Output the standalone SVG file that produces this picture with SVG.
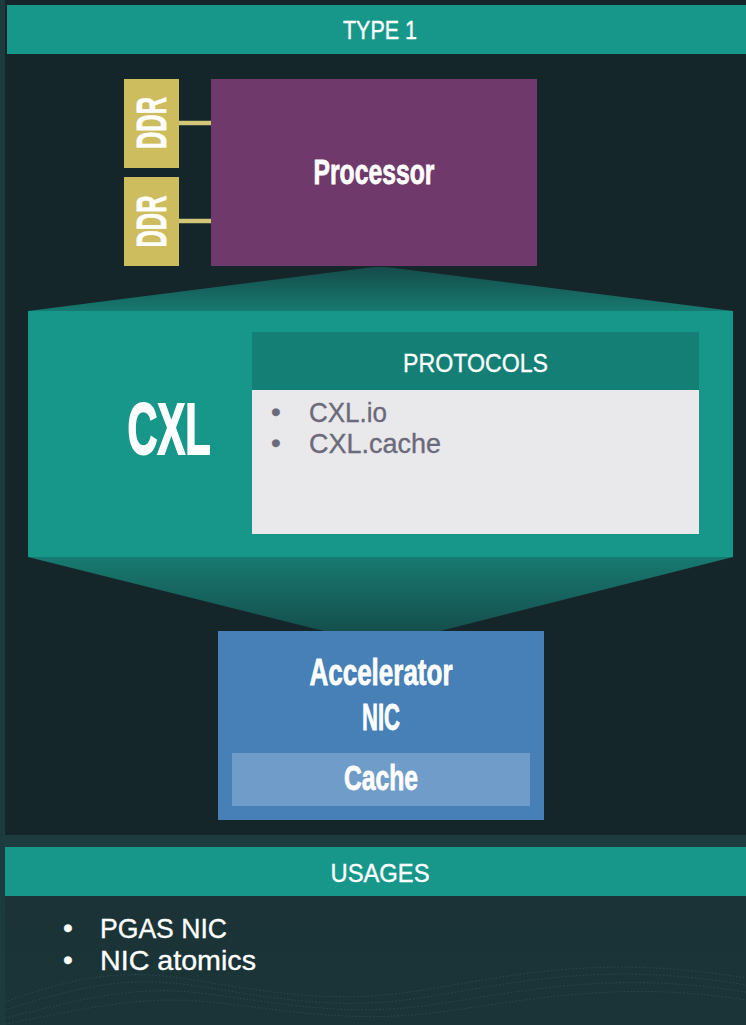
<svg xmlns="http://www.w3.org/2000/svg" width="746" height="1025" viewBox="0 0 746 1025">
<style>
.reg{font-family:"Liberation Sans",Arial,sans-serif;fill:#ffffff;text-anchor:middle;stroke:#ffffff;stroke-width:0.35}
.bold{font-family:"Liberation Sans",Arial,sans-serif;font-weight:bold;fill:#ffffff;text-anchor:middle;stroke:#ffffff;stroke-width:0.8}
.left{text-anchor:start}
.teal{fill:#16978a}
.ddr{fill:#cdbd5e}
.gray{fill:#6b6a7a;stroke:#6b6a7a}
.wave{fill:none;stroke:#3f7479;stroke-width:1;stroke-dasharray:1.5 2;opacity:0.35}
</style>
<defs>
<linearGradient id="gTop" x1="0" y1="0" x2="0" y2="1">
<stop offset="0" stop-color="#154b49"/>
<stop offset="1" stop-color="#177a70"/>
</linearGradient>
<linearGradient id="gBot" x1="0" y1="0" x2="0" y2="1">
<stop offset="0" stop-color="#177a70"/>
<stop offset="1" stop-color="#154f4d"/>
</linearGradient>
<linearGradient id="gBg" x1="0" y1="0" x2="0" y2="1">
<stop offset="0" stop-color="#1b3337"/>
<stop offset="1" stop-color="#1a3438"/>
</linearGradient>
</defs>

<!-- background -->
<rect x="0" y="0" width="746" height="1025" fill="#1b3b3e"/>
<rect x="5" y="0" width="741" height="835" fill="#15262b"/>
<rect x="5" y="835" width="741" height="12" fill="#1c3c3f"/>
<rect x="5" y="896" width="741" height="129" fill="url(#gBg)"/>
<g id="waves">
<path class="wave" d="M5,1010 C70,990 120,975 190,985 S330,1012 420,998 S600,960 746,985"/>
<path class="wave" d="M5,1018 C80,1000 130,985 200,993 S340,1018 430,1005 S610,970 746,992"/>
<path class="wave" d="M5,1002 C60,982 110,968 180,978 S320,1005 410,992 S590,952 746,978"/>
<path class="wave" d="M5,1024 C90,1008 140,995 210,1002 S350,1024 440,1012 S620,980 746,1000"/>
</g>

<!-- header -->
<g id="type1-header">
<rect class="teal" x="7" y="5" width="739" height="49"/>
<text class="reg" x="380" y="39" font-size="25" textLength="74" lengthAdjust="spacingAndGlyphs">TYPE 1</text>
</g>

<!-- connectors -->
<g id="connectors">
<line x1="179" y1="123" x2="211" y2="123" stroke="#d3c677" stroke-width="4.5"/>
<line x1="179" y1="221" x2="211" y2="221" stroke="#d3c677" stroke-width="4.5"/>
<polygon points="28,311 374,267 386,267 733,311" fill="url(#gTop)"/>
<polygon points="28,557 733,557 440,631 324,631" fill="url(#gBot)"/>
</g>

<g id="ddr1">
<rect class="ddr" x="124" y="79" width="55" height="89"/>
<text class="bold" transform="translate(166,123) rotate(-90)" font-size="42" textLength="52" lengthAdjust="spacingAndGlyphs">DDR</text>
</g>
<g id="ddr2">
<rect class="ddr" x="124" y="177" width="55" height="89"/>
<text class="bold" transform="translate(166,221.5) rotate(-90)" font-size="42" textLength="52" lengthAdjust="spacingAndGlyphs">DDR</text>
</g>

<g id="processor">
<rect x="211" y="79" width="326" height="187" fill="#6f3a6b"/>
<text class="bold" x="374" y="184" font-size="35" textLength="121" lengthAdjust="spacingAndGlyphs">Processor</text>
</g>

<g id="cxl">
<rect class="teal" x="28" y="311" width="705" height="246"/>
<text class="bold" x="169" y="454" font-size="72" textLength="83" lengthAdjust="spacingAndGlyphs" style="stroke-width:2">CXL</text>
</g>

<g id="protocols">
<rect x="252" y="332" width="447" height="58" fill="#147f74"/>
<rect x="252" y="390" width="447" height="144" fill="#e9e8ea"/>
<text class="reg" x="475.5" y="372" font-size="26" textLength="145" lengthAdjust="spacingAndGlyphs">PROTOCOLS</text>
<text class="reg gray" x="276" y="421" font-size="28">•</text>
<text class="reg gray left" x="309" y="422" font-size="28" textLength="78" lengthAdjust="spacingAndGlyphs">CXL.io</text>
<text class="reg gray" x="276" y="452" font-size="28">•</text>
<text class="reg gray left" x="309" y="453" font-size="28" textLength="132" lengthAdjust="spacingAndGlyphs">CXL.cache</text>
</g>

<g id="accelerator">
<rect x="218" y="631" width="326" height="189" fill="#4680b6"/>
<text class="bold" x="381" y="685" font-size="36" textLength="143" lengthAdjust="spacingAndGlyphs">Accelerator</text>
<text class="bold" x="381" y="730" font-size="36" textLength="38" lengthAdjust="spacingAndGlyphs">NIC</text>
</g>
<g id="cache">
<rect x="232" y="753" width="298" height="53" fill="#6f9cc8"/>
<text class="bold" x="381" y="790" font-size="35" textLength="74" lengthAdjust="spacingAndGlyphs">Cache</text>
</g>

<g id="usages">
<rect class="teal" x="5" y="847" width="741" height="49"/>
<text class="reg" x="380" y="882" font-size="25" textLength="99" lengthAdjust="spacingAndGlyphs">USAGES</text>
<text class="reg" x="68" y="937" font-size="28">•</text>
<text class="reg left" x="100" y="938" font-size="28" textLength="127" lengthAdjust="spacingAndGlyphs">PGAS NIC</text>
<text class="reg" x="68" y="969" font-size="28">•</text>
<text class="reg left" x="100" y="970" font-size="28" textLength="156" lengthAdjust="spacingAndGlyphs">NIC atomics</text>
</g>
</svg>
